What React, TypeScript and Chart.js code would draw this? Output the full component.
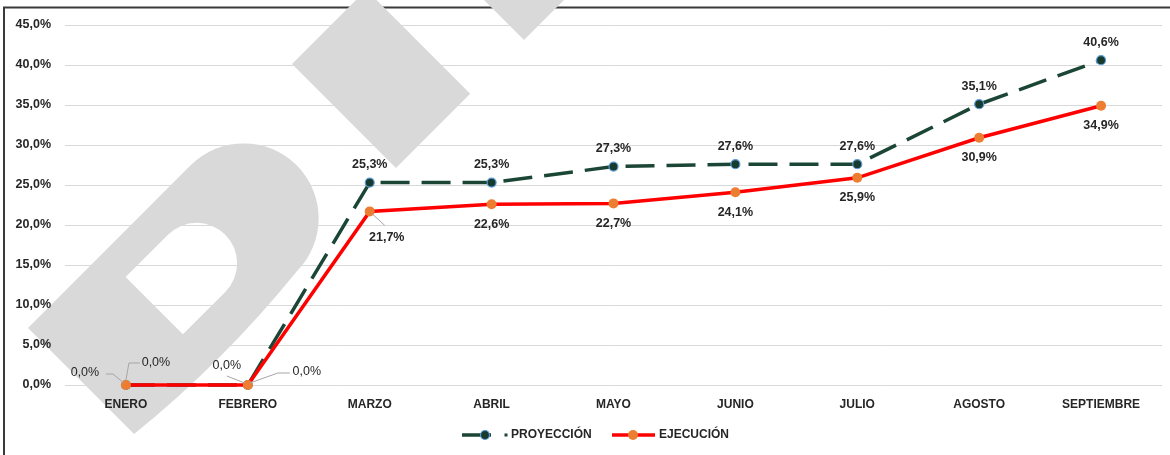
import React, { useEffect, useRef } from 'react';
import { Chart, registerables } from 'chart.js';

Chart.register(...registerables);

// ---------- data ----------
const categories = ['ENERO', 'FEBRERO', 'MARZO', 'ABRIL', 'MAYO', 'JUNIO', 'JULIO', 'AGOSTO', 'SEPTIEMBRE'];
const proyeccion = [0.0, 0.0, 25.3, 25.3, 27.3, 27.6, 27.6, 35.1, 40.6];
const ejecucion = [0.0, 0.0, 21.7, 22.6, 22.7, 24.1, 25.9, 30.9, 34.9];
const seriesNames = ['PROYECCIÓN', 'EJECUCIÓN'];
const yMin = 0;
const yMax = 45;
const yStep = 5;

// ---------- styles ----------
const FONT = "'Liberation Sans', Arial, sans-serif";
const GREEN = '#1b4636';
const GREEN_MARKER = '#173b2f';
const BLUE_RING = '#5b9bd5';
const RED = '#ff0000';
const ORANGE = '#ed7d31';
const TEXT = '#262626';
const LEADER = '#a6a6a6';

const fmt = (v: number) => v.toFixed(1).replace('.', ',') + '%';

// label placement per point (offsets from the marker, px), plus optional leader lines
type LabelCfg = {
  def: [number, number];
  offsets: Record<number, [number, number]>;
  regular: Record<number, boolean>;
  leaders: Record<number, [number, number][]>;
};
const labelCfgs: LabelCfg[] = [
  {
    def: [0, -18],
    offsets: { 0: [30, -22], 1: [-21, -19] },
    regular: { 0: true, 1: true },
    leaders: {
      0: [[14, -22], [3, -22], [0, -5]],
      1: [[-21, -9], [-3, -2]],
    },
  },
  {
    def: [0, 20],
    offsets: { 0: [-41, -12], 1: [59, -13], 2: [17, 26] },
    regular: { 0: true, 1: true },
    leaders: {
      0: [[-20, -11], [-13, -11], [-2, -2]],
      1: [[42, -12], [30, -12], [2, -2]],
      2: [[2, 2], [15, 14]],
    },
  },
];

function drawWatermark(ctx: CanvasRenderingContext2D) {
  ctx.save();
  ctx.fillStyle = '#d9d9d9';
  // rotated "D"
  ctx.save();
  ctx.translate(28, 328);
  ctx.rotate(Math.PI / 4);
  ctx.beginPath();
  ctx.moveTo(0, 0);
  ctx.lineTo(150, 0);
  ctx.quadraticCurveTo(162, -115, 150, -230);
  ctx.arc(75, -230, 75, 0, Math.PI, true);
  ctx.closePath();
  ctx.moveTo(33, -105);
  ctx.lineTo(114, -105);
  ctx.lineTo(114, -165);
  ctx.arc(73.5, -165, 40.5, 0, Math.PI, true);
  ctx.closePath();
  ctx.fill('evenodd');
  ctx.restore();
  // diamond
  ctx.save();
  ctx.translate(292, 64);
  ctx.rotate(Math.PI / 4);
  ctx.fillRect(0, -105, 147, 105);
  ctx.restore();
  // top piece
  ctx.save();
  ctx.translate(524, 40);
  ctx.rotate(Math.PI / 4);
  ctx.fillRect(-200, -200, 200, 200);
  ctx.restore();
  ctx.restore();
}

const backgroundPlugin = {
  id: 'bgDecor',
  beforeDraw(chart: any) {
    const ctx = chart.ctx as CanvasRenderingContext2D;
    ctx.save();
    ctx.fillStyle = '#ffffff';
    ctx.fillRect(0, 0, chart.width, chart.height);
    ctx.strokeStyle = '#3a3a3a';
    ctx.lineWidth = 2;
    ctx.strokeRect(4, 7.5, chart.width + 20, chart.height + 20);
    ctx.restore();
    drawWatermark(ctx);
  },
};

const labelsPlugin = {
  id: 'pointLabels',
  afterDatasetsDraw(chart: any) {
    const ctx = chart.ctx as CanvasRenderingContext2D;
    ctx.save();
    chart.data.datasets.forEach((ds: any, di: number) => {
      const meta = chart.getDatasetMeta(di);
      const cfg = labelCfgs[di];
      meta.data.forEach((pt: any, i: number) => {
        const leader = cfg.leaders[i];
        if (leader) {
          ctx.strokeStyle = LEADER;
          ctx.lineWidth = 1;
          ctx.beginPath();
          leader.forEach(([lx, ly], k) => {
            if (k === 0) ctx.moveTo(pt.x + lx, pt.y + ly);
            else ctx.lineTo(pt.x + lx, pt.y + ly);
          });
          ctx.stroke();
        }
        const [dx, dy] = cfg.offsets[i] || cfg.def;
        const regular = !!cfg.regular[i];
        ctx.font = `${regular ? 'normal' : 'bold'} 12.5px ${FONT}`;
        ctx.fillStyle = TEXT;
        ctx.textAlign = 'center';
        ctx.textBaseline = 'middle';
        ctx.fillText(fmt(ds.data[i]), pt.x + dx, pt.y + dy);
      });
    });
    ctx.restore();
  },
};

const legendPlugin = {
  id: 'customLegend',
  afterDraw(chart: any) {
    const ctx = chart.ctx as CanvasRenderingContext2D;
    const y = 435;
    ctx.save();
    // PROYECCIÓN
    ctx.strokeStyle = GREEN;
    ctx.lineWidth = 3.5;
    ctx.beginPath();
    ctx.moveTo(462, y);
    ctx.lineTo(491, y);
    ctx.stroke();
    ctx.beginPath();
    ctx.arc(485, y, 4.5, 0, Math.PI * 2);
    ctx.fillStyle = GREEN_MARKER;
    ctx.fill();
    ctx.lineWidth = 1.2;
    ctx.strokeStyle = BLUE_RING;
    ctx.stroke();
    ctx.fillStyle = GREEN;
    ctx.fillRect(504.5, y - 1.5, 3, 3);
    ctx.font = `bold 12px ${FONT}`;
    ctx.fillStyle = TEXT;
    ctx.textAlign = 'left';
    ctx.textBaseline = 'middle';
    ctx.fillText(seriesNames[0], 511, y);
    // EJECUCIÓN
    ctx.strokeStyle = RED;
    ctx.lineWidth = 3.5;
    ctx.beginPath();
    ctx.moveTo(612, y);
    ctx.lineTo(655, y);
    ctx.stroke();
    ctx.beginPath();
    ctx.arc(633, y, 5, 0, Math.PI * 2);
    ctx.fillStyle = ORANGE;
    ctx.fill();
    ctx.fillStyle = TEXT;
    ctx.fillText(seriesNames[1], 659, y);
    ctx.restore();
  },
};

export default function App() {
  const canvasRef = useRef<HTMLCanvasElement | null>(null);

  useEffect(() => {
    if (!canvasRef.current) return;
    const chart = new Chart(canvasRef.current, {
      type: 'line',
      data: {
        labels: categories,
        datasets: [
          {
            label: seriesNames[0],
            data: proyeccion,
            borderColor: GREEN,
            borderWidth: 3.5,
            borderDash: [29, 12],
            pointRadius: 4.5,
            pointBorderWidth: 1.2,
            pointBackgroundColor: GREEN_MARKER,
            pointBorderColor: BLUE_RING,
            tension: 0,
            fill: false,
            clip: false as any,
            order: 1,
          },
          {
            label: seriesNames[1],
            data: ejecucion,
            borderColor: RED,
            borderWidth: 3.5,
            pointRadius: 5,
            pointBorderWidth: 0,
            pointBackgroundColor: ORANGE,
            pointBorderColor: ORANGE,
            tension: 0,
            fill: false,
            clip: false as any,
            order: 0,
          },
        ],
      },
      options: {
        responsive: false,
        animation: false,
        devicePixelRatio: 1,
        layout: { padding: { top: 25, right: 8, left: 0, bottom: 0 } },
        plugins: {
          legend: { display: false },
          tooltip: { enabled: false },
        },
        scales: {
          x: {
            offset: true,
            grid: { display: false, drawTicks: false },
            border: { display: false },
            ticks: {
              color: TEXT,
              font: { family: FONT, size: 12, weight: 'bold' },
              padding: 12,
              maxRotation: 0,
              autoSkip: false,
            },
            afterFit: (s: any) => {
              s.height = 70;
            },
          },
          y: {
            min: yMin,
            max: yMax,
            grid: { color: '#d9d9d9', lineWidth: 1, drawTicks: false },
            border: { display: false },
            ticks: {
              stepSize: yStep,
              color: TEXT,
              font: { family: FONT, size: 12.5, weight: 'bold' },
              padding: 14,
              callback: (v: any) => fmt(Number(v)),
            },
            afterFit: (s: any) => {
              s.width = 65;
            },
          },
        },
      },
      plugins: [backgroundPlugin, labelsPlugin, legendPlugin],
    });
    return () => chart.destroy();
  }, []);

  return (
    <div style={{ position: 'fixed', left: 0, top: 0, width: 1170, height: 455, background: '#fff' }}>
      <canvas ref={canvasRef} width={1170} height={455} style={{ display: 'block' }} />
    </div>
  );
}
